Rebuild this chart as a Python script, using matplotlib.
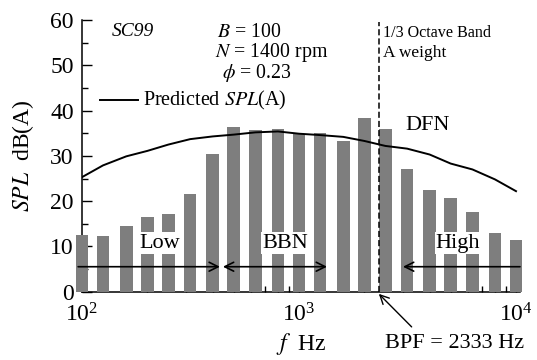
import numpy as np
import matplotlib
matplotlib.use("Agg")
import matplotlib.pyplot as plt

plt.rcParams['font.family'] = ['Liberation Serif', 'DejaVu Serif']
plt.rcParams['mathtext.fontset'] = 'stix'

# 1/3 octave band centre frequencies and measured A-weighted SPL
freqs = [100, 125, 160, 200, 250, 315, 400, 500, 630, 800, 1000,
         1250, 1600, 2000, 2500, 3150, 4000, 5000, 6300, 8000, 10000]
spl_meas = [12.5, 12.4, 14.6, 16.5, 17.2, 21.6, 30.5, 36.4, 35.8, 36.0, 34.8,
            35.1, 33.2, 38.4, 36.0, 27.2, 22.4, 20.8, 17.5, 12.9, 11.4]
# predicted SPL(A) curve
spl_pred = [25.3, 27.9, 29.9, 31.1, 32.5, 33.7, 34.3, 34.7, 35.2, 35.4, 34.9,
            34.6, 34.2, 33.3, 32.2, 31.6, 30.3, 28.3, 27.0, 24.8, 22.2]

bpf = 2333
low_range = [96, 432]
bbn_range = [446, 1346]
high_range = [10430, 3013]

fig = plt.figure(figsize=(5.37, 3.6), dpi=100)
ax = fig.add_axes([0.1527, 0.19, 0.8156, 0.754])

f = np.array(freqs, dtype=float)
hw = 10 ** 0.0288
ax.bar(f / hw, spl_meas, width=f * hw - f / hw, align='edge',
       color='#7e7e7e', edgecolor='none', zorder=3, clip_on=False)

ax.plot(freqs, spl_pred, color='k', lw=1.4, zorder=4)
ax.plot([bpf, bpf], [0, 59.5], color='k', lw=1.1, dashes=(4, 2), zorder=4)

ax.set_xscale('log')
ax.set_xlim(100, 10430)
ax.set_ylim(0, 60)
ax.set_yticks(range(0, 61, 10))
ax.set_yticks(range(5, 60, 10), minor=True)
for s in ['top', 'right']:
    ax.spines[s].set_visible(False)
for s in ['left', 'bottom']:
    ax.spines[s].set_linewidth(1.1)
ax.tick_params(which='both', direction='in', width=1.0)
ax.tick_params(which='major', length=7, labelsize=17)
ax.tick_params(which='minor', length=4)
ax.tick_params(axis='y', pad=6)
ax.tick_params(axis='x', pad=8.5)

ax.set_ylabel(r'$\mathit{SPL}$  dB(A)', fontsize=17, labelpad=10)
ax.set_xlabel(r'$\mathit{f}$  Hz', fontsize=17, labelpad=3)

# annotations
ax.text(137, 57.4, 'SC99', fontsize=14, style='italic', va='center')
ax.text(419, 57.3, r'$\mathit{B}$ = 100', fontsize=14.3, va='center')
ax.text(410, 52.9, r'$\mathit{N}$ = 1400 rpm', fontsize=14.3, va='center')
ax.text(442, 48.3, r'$\phi$ = 0.23', fontsize=14.3, va='center')
ax.plot([121, 181], [42.3, 42.3], color='k', lw=1.4)
ax.text(191, 42.3, r'Predicted $\mathit{SPL}$(A)', fontsize=14.5, va='center')
ax.text(2439, 57.1, '1/3 Octave Band', fontsize=11.6, va='center')
ax.text(2439, 52.7, 'A weight', fontsize=12.5, va='center')
ax.text(3926, 36.8, 'DFN', fontsize=16, ha='center', va='center')

box = dict(facecolor='white', edgecolor='none', pad=1.0)
ax.text(229, 10.7, 'Low', fontsize=16, ha='center', va='center', bbox=box, zorder=5)
ax.text(867, 10.7, 'BBN', fontsize=16, ha='center', va='center', bbox=box, zorder=5)
ax.text(5409, 10.7, 'High', fontsize=16, ha='center', va='center', bbox=box, zorder=5)

arr = dict(arrowstyle='->', color='k', lw=1.2, mutation_scale=16,
           shrinkA=0, shrinkB=0)
arr2 = dict(arr, arrowstyle='<->')
ax.annotate('', xy=(low_range[1], 5.5), xytext=(low_range[0], 5.5),
            arrowprops=arr, annotation_clip=False, zorder=5)
ax.annotate('', xy=(bbn_range[1], 5.5), xytext=(bbn_range[0], 5.5),
            arrowprops=arr2, annotation_clip=False, zorder=5)
ax.annotate('', xy=(high_range[1], 5.5), xytext=(high_range[0], 5.5),
            arrowprops=arr, annotation_clip=False, zorder=5)

ax.annotate('', xy=(bpf, -0.5), xytext=(3304, -7.8),
            arrowprops=dict(arr, lw=1.0), annotation_clip=False)
ax.text(2489, -11.4, 'BPF = 2333 Hz', fontsize=16, va='center')

fig.savefig('out.png', dpi=100)
